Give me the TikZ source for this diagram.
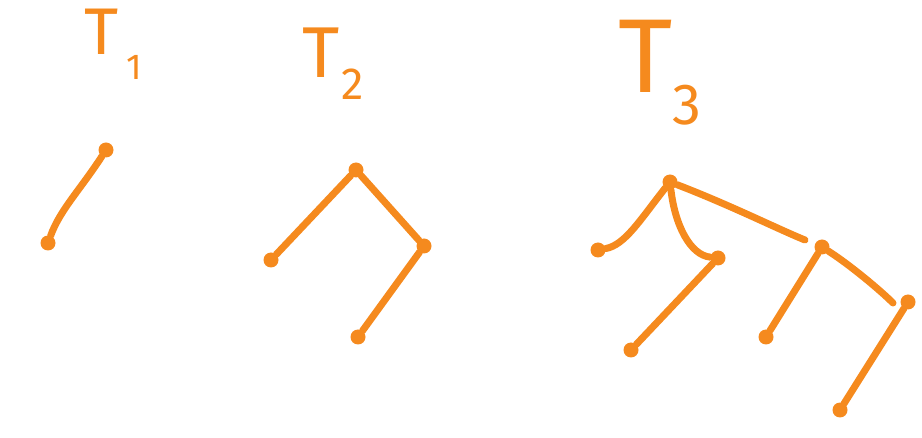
\documentclass[tikz,border=0pt]{standalone}
\usepackage{fontspec}
\setmainfont{Fira Sans}
\definecolor{pen}{RGB}{245,138,30}
\tikzset{
  vtx/.style={circle, fill=pen, inner sep=0pt, minimum size=15pt},
  edge/.style={draw=pen, line width=7pt, line cap=round},
  lbl/.style={text=pen, inner sep=0pt, anchor=base west}
}
\begin{document}
\begin{tikzpicture}[x=1pt,y=-1pt]
\useasboundingbox (0,0) rectangle (922,438);
% labels
\node[lbl] (l1) at (84,55) {\fontsize{66}{66}\selectfont T\hspace{8pt}\raisebox{-25pt}{\fontsize{36}{36}\selectfont 1}};
\node[lbl] (l2) at (302,78) {\fontsize{72}{72}\selectfont T\hspace{2pt}\raisebox{-22pt}{\fontsize{45}{45}\selectfont 2}};
\node[lbl] (l3) at (618,93) {\fontsize{105}{105}\selectfont T\hspace{0pt}\raisebox{-32pt}{\fontsize{58}{58}\selectfont 3}};
% T1
\node[vtx] (a1) at (106,150) {};
\node[vtx] (a2) at (48,243) {};
\draw[edge] (a1) .. controls (80,190) and (60,210) .. (a2);
% T2
\node[vtx] (b1) at (356,170) {};
\node[vtx] (b2) at (271,260) {};
\node[vtx] (b3) at (424,246) {};
\node[vtx] (b4) at (358,337) {};
\draw[edge] (b1) -- (b2);
\draw[edge] (b1) -- (b3);
\draw[edge] (b3) -- (b4);
% T3
\node[vtx] (c1) at (670,182) {};
\node[vtx] (c2) at (598,250) {};
\node[vtx] (c3) at (718,258) {};
\node[vtx] (c4) at (822,247) {};
\node[vtx] (c5) at (631,350) {};
\node[vtx] (c6) at (766,337) {};
\node[vtx] (c7) at (908,302) {};
\node[vtx] (c8) at (840,410) {};
\draw[edge] (c1) .. controls (640,220) and (625,245) .. (c2);
\draw[edge] (c1) .. controls (675,225) and (690,255) .. (c3);
\draw[edge] (c1) .. controls (730,205) and (780,230) .. (805,240);
\draw[edge] (c3) -- (c5);
\draw[edge] (c4) -- (c6);
\draw[edge] (c4) .. controls (850,265) and (880,290) .. (893,303);
\draw[edge] (c7) -- (c8);
\end{tikzpicture}
\end{document}
